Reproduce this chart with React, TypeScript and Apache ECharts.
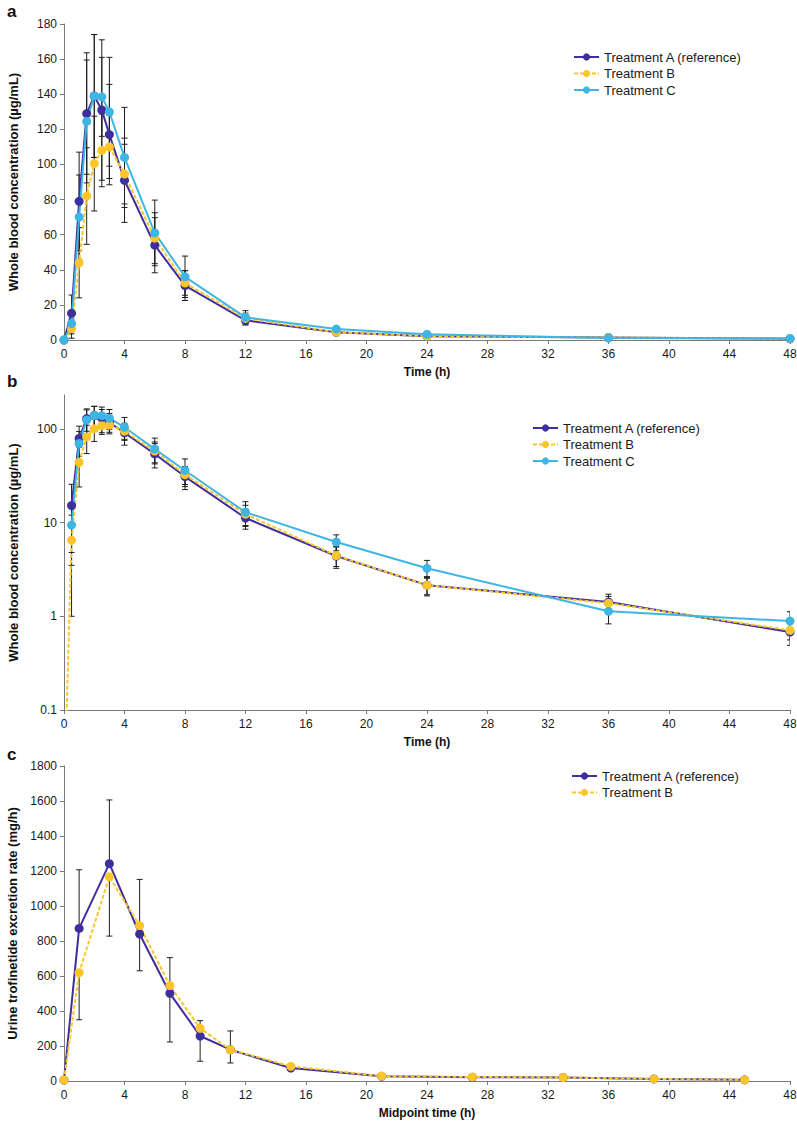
import React, { useEffect, useRef } from "react";
import * as echarts from "echarts";

// ---------- Data ----------
const TIME = [0, 0.5, 1, 1.5, 2, 2.5, 3, 4, 6, 8, 12, 18, 24, 36, 48];
const A_MEAN = [0, 15.2, 79, 129, 139, 131, 117, 91, 54, 31, 11.2, 4.4, 2.15, 1.42, 0.68];
const A_SD = [0, 10.4, 28, 34.6, 35, 40, 28.6, 24, 15.7, 8.5, 2.7, 1.15, 0.5, 0.3, 0.19];
const B_MEAN = [0.01, 6.5, 44, 82, 100.5, 108, 110, 94.5, 58, 32.5, 12.3, 4.45, 2.15, 1.38, 0.71];
const B_SD = [0, 5.5, 20, 27.5, 27, 20.7, 18, 17, 14.5, 7, 3, 1.05, 0.45, 0.25, 0.15];
const C_MEAN = [0, 9.4, 70, 124.5, 139, 138.5, 130, 104, 61, 36, 12.9, 6.2, 3.25, 1.13, 0.89];
const C_SD = [0, 5.9, 24, 35, 35, 22.5, 31, 28.5, 18.7, 11.8, 3.8, 1.2, 0.7, 0.3, 0.23];

const MID = [0, 1, 3, 5, 7, 9, 11, 15, 21, 27, 33, 39, 45];
const A_RATE = [5, 872, 1242, 840, 501, 257, 179, 74, 27, 22, 20, 12, 7];
const A_RATE_LOW = [null, null, null, 630, 223, 113, 103, 60, null, null, null, null, null];
const A_RATE_HIGH = [null, 1207, 1606, null, null, null, null, null, null, null, null, null, null];
const B_RATE = [5, 619, 1167, 888, 545, 301, 179, 84, 28, 23, 20, 12, 6];
const B_RATE_LOW = [null, 350, 828, null, null, null, null, null, null, null, null, null, null];
const B_RATE_HIGH = [null, null, null, 1152, 705, 345, 286, 95, null, null, null, null, null];

const LOG_TICKS = [0.1, 1, 10, 100];

const NAME_A = "Treatment A (reference)";
const NAME_B = "Treatment B";
const NAME_C = "Treatment C";

const COL_A = "#3d2f9d";
const COL_B = "#fcc62a";
const COL_C = "#3db6e5";

const FONT = "'Liberation Sans', Arial, sans-serif";

function errRender(params: any, api: any) {
  const x = api.value(0);
  const lo = api.value(1);
  const hi = api.value(2);
  const m = api.value(3);
  const top = api.coord([x, hi]);
  const bot = api.coord([x, lo]);
  const w = 3;
  const st = { stroke: "#1e1e1e", lineWidth: 1 };
  const children: any[] = [
    { type: "line", shape: { x1: top[0], y1: top[1], x2: bot[0], y2: bot[1] }, style: st },
  ];
  if (hi !== m) children.push({ type: "line", shape: { x1: top[0] - w, y1: top[1], x2: top[0] + w, y2: top[1] }, style: st });
  if (lo !== m) children.push({ type: "line", shape: { x1: bot[0] - w, y1: bot[1], x2: bot[0] + w, y2: bot[1] }, style: st });
  return { type: "group", children };
}

function sdBars(t: number[], mean: number[], sd: number[]) {
  const out: number[][] = [];
  t.forEach((x, i) => {
    if (sd[i] > 0) out.push([x, mean[i] - sd[i], mean[i] + sd[i], mean[i]]);
  });
  return out;
}

function oneSidedBars(t: number[], mean: number[], low: (number | null)[], high: (number | null)[]) {
  const out: number[][] = [];
  t.forEach((x, i) => {
    if (low[i] != null || high[i] != null) {
      out.push([x, low[i] != null ? (low[i] as number) : mean[i], high[i] != null ? (high[i] as number) : mean[i], mean[i]]);
    }
  });
  return out;
}

function lineSeries(name: string, color: string, dashed: boolean, idx: number, data: any[]) {
  return {
    type: "line",
    name,
    xAxisIndex: idx,
    yAxisIndex: idx,
    data,
    symbol: "circle",
    symbolSize: 9,
    z: 3,
    clip: true,
    itemStyle: { color },
    lineStyle: { color, width: 2, type: dashed ? [4, 2] : "solid" },
  };
}

function errSeries(idx: number, data: number[][]) {
  return {
    type: "custom",
    xAxisIndex: idx,
    yAxisIndex: idx,
    z: 2,
    clip: true,
    renderItem: errRender,
    encode: { x: 0, y: 1 },
    data,
  };
}

const pair = (t: number[], v: (number | null)[]) => t.map((x, i) => [x, v[i]]);
const logPair = (t: number[], v: number[]) => t.map((x, i) => [x, v[i] > 0 ? v[i] : null]);

export default function App() {
  const ref = useRef<HTMLDivElement>(null);
  useEffect(() => {
    document.body.style.margin = "0";
    const chart = echarts.init(ref.current!, null, { renderer: "svg" });
    const axisLine = { show: true, lineStyle: { color: "#7a7a7a", width: 1 } };
    const axisTick = { show: true, length: 4, lineStyle: { color: "#7a7a7a" } };
    const label = { color: "#1a1a1a", fontSize: 12, fontFamily: FONT };
    const xNameStyle = { color: "#111", fontSize: 12, fontWeight: "bold", fontFamily: FONT };
    const yNameStyle = { color: "#111", fontSize: 13, fontWeight: "bold", fontFamily: FONT };
    const plain = (v: number) => String(v);

    const xAxis = (idx: number, name: string) => ({
      type: "value",
      gridIndex: idx,
      min: 0,
      max: 48,
      interval: 4,
      name,
      nameLocation: "middle",
      nameGap: 26,
      nameTextStyle: xNameStyle,
      axisLine,
      axisTick: { ...axisTick },
      axisLabel: { ...label, margin: 8, formatter: plain },
      splitLine: { show: false },
    });

    const grids = [
      { left: 64, right: 7, top: 24, height: 316, outerBoundsMode: "none", containLabel: false },
      { left: 64, right: 7, top: 395, height: 315, outerBoundsMode: "none", containLabel: false },
      { left: 64, right: 7, top: 766, height: 315, outerBoundsMode: "none", containLabel: false },
    ];

    const legend = (left: number, top: number, data: string[]) => ({
      orient: "vertical",
      left,
      top,
      itemWidth: 25,
      itemHeight: 9,
      itemGap: 2.5,
      data,
      textStyle: { color: "#1a1a1a", fontSize: 13, fontFamily: FONT, lineHeight: 14 },
      selectedMode: false,
    });

    const option: any = {
      animation: false,
      textStyle: { fontFamily: FONT },
      grid: grids,
      legend: [
        legend(568, 45, [NAME_A, NAME_B, NAME_C]),
        legend(527, 416, [NAME_A, NAME_B, NAME_C]),
        legend(566, 764, [NAME_A, NAME_B]),
      ],
      xAxis: [xAxis(0, "Time (h)"), xAxis(1, "Time (h)"), xAxis(2, "Midpoint time (h)")],
      yAxis: [
        {
          type: "value",
          gridIndex: 0,
          min: 0,
          max: 180,
          interval: 20,
          name: "Whole blood concentration (µg/mL)",
          nameLocation: "middle",
          nameGap: 44,
          nameTextStyle: yNameStyle,
          axisLine,
          axisTick,
          axisLabel: { ...label, margin: 7, formatter: plain },
          splitLine: { show: false },
        },
        {
          type: "log",
          logBase: 10,
          gridIndex: 1,
          min: 0.1,
          max: 230,
          name: "Whole blood concentration (µg/mL)",
          nameLocation: "middle",
          nameGap: 44,
          nameTextStyle: yNameStyle,
          axisLine,
          axisTick: { ...axisTick, customValues: LOG_TICKS },
          axisLabel: { ...label, margin: 7, customValues: LOG_TICKS, formatter: plain },
          splitLine: { show: false },
          minorTick: { show: false },
        },
        {
          type: "value",
          gridIndex: 2,
          min: 0,
          max: 1800,
          interval: 200,
          name: "Urine trofinetide excretion rate (mg/h)",
          nameLocation: "middle",
          nameGap: 44,
          nameTextStyle: yNameStyle,
          axisLine,
          axisTick,
          axisLabel: { ...label, margin: 7, formatter: plain },
          splitLine: { show: false },
        },
      ],
      graphic: [
        { type: "text", left: 7, top: 3, style: { text: "a", font: `bold 17px ${FONT}`, fill: "#111" } },
        { type: "text", left: 7, top: 373, style: { text: "b", font: `bold 17px ${FONT}`, fill: "#111" } },
        { type: "text", left: 7, top: 746, style: { text: "c", font: `bold 17px ${FONT}`, fill: "#111" } },
      ],
      series: [
        errSeries(0, sdBars(TIME, A_MEAN, A_SD)),
        errSeries(0, sdBars(TIME, B_MEAN, B_SD)),
        errSeries(0, sdBars(TIME, C_MEAN, C_SD)),
        lineSeries(NAME_A, COL_A, false, 0, pair(TIME, A_MEAN)),
        lineSeries(NAME_B, COL_B, true, 0, pair(TIME, B_MEAN)),
        lineSeries(NAME_C, COL_C, false, 0, pair(TIME, C_MEAN)),

        errSeries(1, sdBars(TIME, A_MEAN, A_SD)),
        errSeries(1, sdBars(TIME, B_MEAN, B_SD)),
        errSeries(1, sdBars(TIME, C_MEAN, C_SD)),
        lineSeries(NAME_A, COL_A, false, 1, logPair(TIME, A_MEAN)),
        lineSeries(NAME_B, COL_B, true, 1, logPair(TIME, B_MEAN)),
        lineSeries(NAME_C, COL_C, false, 1, logPair(TIME, C_MEAN)),

        errSeries(2, oneSidedBars(MID, A_RATE, A_RATE_LOW, A_RATE_HIGH)),
        errSeries(2, oneSidedBars(MID, B_RATE, B_RATE_LOW, B_RATE_HIGH)),
        lineSeries(NAME_A, COL_A, false, 2, pair(MID, A_RATE)),
        lineSeries(NAME_B, COL_B, true, 2, pair(MID, B_RATE)),
      ],
    };
    // in the log panel, B's t=0 point only anchors the dashed segment (no marker in the reference)
    option.series[10].data[0] = { value: [0, 0.01], symbol: "none" };
    chart.setOption(option);
    return () => chart.dispose();
  }, []);
  return <div ref={ref} style={{ position: "absolute", left: 0, top: 0, width: 797, height: 1125, background: "#fff" }} />;
}
